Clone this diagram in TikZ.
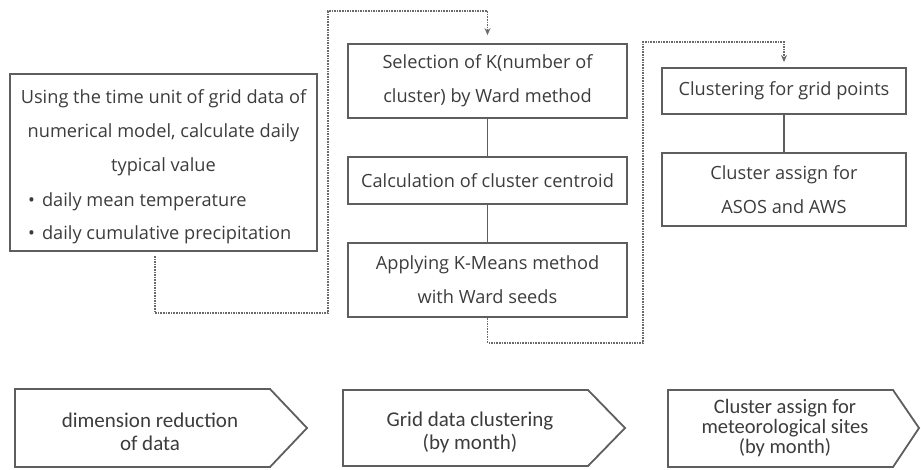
\documentclass[tikz,border=0pt]{standalone}
\usepackage{fontspec}
\setmainfont{Open Sans}
\newfontfamily\bfont{Carlito}
\usetikzlibrary{arrows.meta}
\definecolor{txtc}{HTML}{3C3C3C}
\definecolor{linec}{HTML}{5E5E5E}
\definecolor{dotc}{HTML}{6A6A6A}
\begin{document}
\begin{tikzpicture}[x=1pt,y=-1pt,
  box/.style={draw=linec, line width=1.8pt, inner sep=0pt, align=center, text=txtc,
    font=\fontsize{18.2}{34}\selectfont},
  txt/.style={inner sep=0pt, align=center, text=txtc, font=\fontsize{18.2}{34}\selectfont},
  btxt/.style={inner sep=0pt, align=center, text=txtc, font=\bfont\fontsize{21}{23}\selectfont},
  shp/.style={draw=linec, line width=1.8pt},
  link/.style={draw=linec, line width=1.8pt},
  dotl/.style={draw=dotc, line width=1.6pt, densely dotted},
  arr/.style={-{Stealth[length=7pt,width=6pt]}}
]
\useasboundingbox (0,0) rectangle (921,469);

% left box
\node[box, minimum width=307pt, minimum height=177pt] (L) at (163.5,162.5) {};
\node[txt] (Lt) at (163.5,133) {Using the time unit of grid data of\\numerical model, calculate daily\\typical value};
\node[txt, anchor=west] (Lb1) at (28,202) {•\hspace{7pt}daily mean temperature};
\node[txt, anchor=west] (Lb2) at (28,235) {•\hspace{7pt}daily cumulative precipitation};

% middle boxes
\node[box, minimum width=279pt, minimum height=74pt] (B1) at (487.5,81) {Selection of K(number of\\cluster) by Ward method};
\node[box, minimum width=279pt, minimum height=47pt] (B2) at (487.5,180.5) {Calculation of cluster centroid};
\node[box, minimum width=279pt, minimum height=74pt] (B3) at (487.5,280) {Applying K-Means method\\with Ward seeds};

% right boxes
\node[box, minimum width=244pt, minimum height=46pt] (R1) at (784,91) {Clustering for grid points};
\node[box, minimum width=244pt, minimum height=73pt] (R2) at (784,189.5) {Cluster assign for\\ASOS and AWS};

% solid connectors
\draw[link] (B1.south) -- (B2.north);
\draw[link] (B2.south) -- (B3.north);
\draw[link] (R1.south) -- (R2.north);

% dotted connectors
\coordinate (d1s) at (155,256);
\coordinate (d2s) at (487.5,318);
\draw[dotl, arr, shorten >=8pt] (d1s) -- (155,313) -- (328,313) -- (328,11) -- (B1.north |- 0,11) -- (B1.north);
\draw[dotl, arr, shorten >=5pt] (d2s) -- (487.5,343) -- (643,343) -- (643,42) -- (R1.north |- 0,42) -- (R1.north);

% bottom process arrows
\draw[shp] (15,389) -- (270,389) -- (307,428) -- (270,467) -- (15,467) -- cycle;
\node[btxt] (P1) at (150,432) {dimension reduction\\of data};
\draw[shp] (343,390) -- (588,390) -- (625,428) -- (588,466) -- (343,466) -- cycle;
\node[btxt] (P2) at (470,432) {Grid data clustering\\(by month)};
\draw[shp] (668,390) -- (893,390) -- (919,428) -- (893,467) -- (668,467) -- cycle;
\node[btxt, font=\bfont\fontsize{20.5}{20}\selectfont] (P3) at (785,428) {Cluster assign for\\meteorological sites\\(by month)};
\end{tikzpicture}
\end{document}
